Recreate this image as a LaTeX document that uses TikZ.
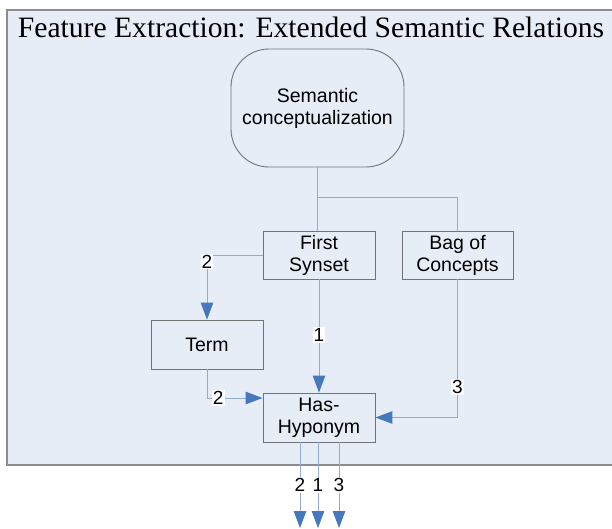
\documentclass[tikz,border=0pt]{standalone}
\usepackage{fontspec}
\setmainfont{Liberation Serif}
\setsansfont{Liberation Sans}
\usetikzlibrary{arrows.meta,calc}
\definecolor{panelbg}{RGB}{230,237,247}
\definecolor{panelborder}{RGB}{140,140,140}
\definecolor{boxborder}{RGB}{115,115,115}
\definecolor{connblue}{RGB}{145,172,208}
\definecolor{tipblue}{RGB}{70,120,190}
\begin{document}
\begin{tikzpicture}[x=1pt,y=-1pt,
 box/.style={draw=boxborder,line width=0.9pt,fill=panelbg,inner sep=0pt,align=center,
   font=\sffamily\fontsize{19.5}{22}\selectfont},
 conn/.style={draw=connblue,line width=1pt},
 arr/.style={conn,-{Triangle[length=17pt,width=12.5pt,color=tipblue,fill=tipblue]}},
 lab/.style={fill=white,inner sep=1.2pt,font=\sffamily\fontsize{19}{19}\selectfont}
]
\useasboundingbox (0,0) rectangle (612,528);
\draw[fill=panelbg,draw=panelborder,line width=1.5pt] (7,10) rectangle (618,465);
\node[anchor=base,font=\fontsize{29.6}{32}\selectfont] (title) at (311,37) {Feature Extraction: Extended Semantic Relations};

\node[box,rounded corners=38pt,minimum width=173pt,minimum height=118pt] (sc) at (317.5,108) {Semantic\\conceptualization};
\node[box,minimum width=112pt,minimum height=48pt] (fs) at (319,255) {First\\Synset};
\node[box,minimum width=111pt,minimum height=48pt] (bag) at (457.5,255) {Bag of\\Concepts};
\node[box,minimum width=112pt,minimum height=49pt] (term) at (207,344.5) {Term};
\node[box,minimum width=112pt,minimum height=49pt] (hh) at (319,417.5) {Has-\\Hyponym};

\draw[conn] (sc.south) -- (sc.south |- fs.north);
\draw[conn] (sc.south) -- ++(0,30) -| (bag.north);

\draw[arr] (fs.west) -| (term.north) node[lab,pos=0.55] {2};
\draw[arr] (term.south) |- ([yshift=19.5pt]hh.west) node[lab,pos=0.6] {2};
\draw[arr] (fs.south) -- (hh.north) node[lab,pos=0.49] {1};
\draw[arr] (bag.south) |- (hh.east) node[lab,pos=0.39] {3};

\coordinate (e2) at (300,528);
\coordinate (e1) at (318,528);
\coordinate (e3) at (339,528);
\draw[arr] (e2 |- hh.south) -- (e2) node[lab,pos=0.5] {2};
\draw[arr] (e1 |- hh.south) -- (e1) node[lab,pos=0.5] {1};
\draw[arr] (e3 |- hh.south) -- (e3) node[lab,pos=0.5] {3};
\end{tikzpicture}
\end{document}
